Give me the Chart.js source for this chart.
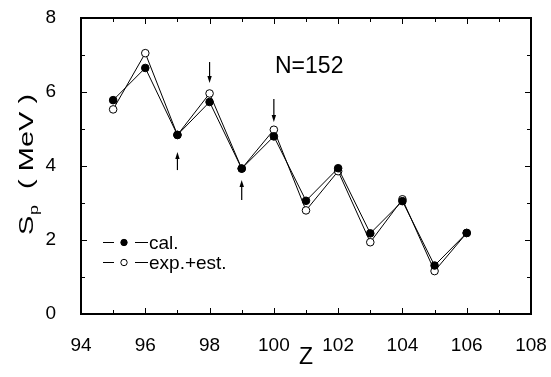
<!DOCTYPE html>
<html><head><meta charset="utf-8">
<script src="https://cdn.jsdelivr.net/npm/chart.js@4"></script>
<style>html,body{margin:0;padding:0;background:#fff;}</style>
</head><body>
<canvas id="c" width="551" height="377" style="display:block;width:551px;height:377px"></canvas>
<script>
// ---- data ----
const zValues   = [95, 96, 97, 98, 99, 100, 101, 102, 103, 104, 105, 106];
const calValues = [5.78, 6.65, 4.84, 5.73, 3.93, 4.80, 3.06, 3.94, 2.18, 3.05, 1.31, 2.19];
const expValues = [5.53, 7.05, 4.84, 5.96, 3.93, 4.98, 2.80, 3.86, 1.94, 3.10, 1.16, 2.19];
const seriesNames = ['cal.', 'exp.+est.'];
const xMajorTicks = [94, 96, 98, 100, 102, 104, 106, 108];
const xMinorTicks = [95, 97, 99, 101, 103, 105, 107];
const yMajorTicks = [0, 2, 4, 6, 8];
const yMinorTicks = [1, 3, 5, 7];
const arrowZ    = [97, 98, 99, 100];
const arrowFrom = [3.89, 6.81, 3.08, 5.81];
const arrowTo   = [4.38, 6.24, 3.62, 5.19];
const annotationText = 'N=152';
const annotationPos = [101.1, 6.68];
const xTitle = 'Z';
const yTitleMain = 'S', yTitleSub = 'p', yTitleRest = '  ( MeV )';

const FONT = 'Liberation Sans, Arial, sans-serif';

function pts(ys){ return zValues.map((z,i)=>({x:z, y:ys[i]})); }

function drawFrame(chart) {
  const ctx = chart.ctx, a = chart.chartArea;
  const xs = chart.scales.x, ys = chart.scales.y;
  ctx.save();
  const seg = (w, x0, y0, x1, y1) => {
    ctx.strokeStyle = '#000'; ctx.lineWidth = w;
    ctx.beginPath(); ctx.moveTo(x0, y0); ctx.lineTo(x1, y1); ctx.stroke();
  };
  seg(2, a.left - 1, a.top, a.right + 1, a.top);
  seg(2, a.left - 1, a.bottom, a.right + 1, a.bottom);
  seg(2, a.left, a.top, a.left, a.bottom);
  seg(2, a.right, a.top, a.right, a.bottom);
  const tx = (vals, len) => vals.forEach(v => {
    const px = Math.round(xs.getPixelForValue(v)) + 0.5;
    seg(1, px, a.bottom, px, a.bottom - len);
    seg(1, px, a.top, px, a.top + len);
  });
  const ty = (vals, len) => vals.forEach(v => {
    const py = Math.round(ys.getPixelForValue(v)) + 0.5;
    seg(1, a.left, py, a.left + len, py);
    seg(1, a.right, py, a.right - len, py);
  });
  tx(xMajorTicks, 6); tx(xMinorTicks, 4);
  ty(yMajorTicks, 6); ty(yMinorTicks, 4);
  ctx.restore();
}

const decor = {
  id: 'decor',
  afterDatasetsDraw(chart) { drawFrame(chart); },
  afterDraw(chart) {
    const ctx = chart.ctx, a = chart.chartArea;
    const xs = chart.scales.x, ys = chart.scales.y;
    ctx.save();
    ctx.fillStyle = '#000';
    ctx.strokeStyle = '#000';
    // arrows
    ctx.lineWidth = 1.2;
    arrowZ.forEach((z, i) => {
      const px = xs.getPixelForValue(z);
      const y0 = ys.getPixelForValue(arrowFrom[i]);
      const y1 = ys.getPixelForValue(arrowTo[i]);
      const dir = y1 > y0 ? 1 : -1;
      ctx.beginPath(); ctx.moveTo(px, y0); ctx.lineTo(px, y1 - dir * 4); ctx.stroke();
      ctx.beginPath();
      ctx.moveTo(px, y1);
      ctx.lineTo(px - 2.2, y1 - dir * 7);
      ctx.lineTo(px + 2.2, y1 - dir * 7);
      ctx.closePath(); ctx.fill();
    });
    // annotation
    ctx.font = '23px ' + FONT;
    ctx.textAlign = 'center'; ctx.textBaseline = 'middle';
    ctx.fillText(annotationText, xs.getPixelForValue(annotationPos[0]), ys.getPixelForValue(annotationPos[1]));
    // legend
    const rows = [a.bottom - 71.5, a.bottom - 51.5];
    const fills = ['#000', '#fff'];
    rows.forEach((ry, i) => {
      ctx.strokeStyle = '#000'; ctx.lineWidth = 1;
      ctx.beginPath();
      ctx.moveTo(a.left + 22, ry); ctx.lineTo(a.left + 33, ry);
      ctx.moveTo(a.left + 54, ry); ctx.lineTo(a.left + 67, ry);
      ctx.stroke();
      ctx.beginPath(); ctx.arc(a.left + 43, ry, 3.2, 0, Math.PI * 2);
      ctx.fillStyle = fills[i]; ctx.fill(); ctx.stroke();
      ctx.fillStyle = '#000';
      ctx.font = '19px ' + FONT;
      ctx.textAlign = 'left'; ctx.textBaseline = 'middle';
      ctx.fillText(seriesNames[i], a.left + 68, ry + 1);
    });
    // x title
    ctx.font = '23px ' + FONT;
    ctx.textAlign = 'center'; ctx.textBaseline = 'middle';
    ctx.fillText(xTitle, (a.left + a.right) / 2, a.bottom + 44);
    // y title (rotated, with subscript)
    ctx.save();
    ctx.translate(33, 235);
    ctx.rotate(-Math.PI / 2);
    ctx.scale(1.38, 1);
    ctx.textAlign = 'left'; ctx.textBaseline = 'alphabetic';
    ctx.font = '21px ' + FONT;
    let x = 0;
    ctx.fillText(yTitleMain, x, 0); x += ctx.measureText(yTitleMain).width;
    ctx.font = '13px ' + FONT;
    ctx.fillText(yTitleSub, x + 0.5, 5); x += ctx.measureText(yTitleSub).width + 0.5;
    ctx.font = '21px ' + FONT;
    ctx.fillText(yTitleRest, x, 0);
    ctx.restore();
    ctx.restore();
    drawFrame(chart);
  }
};

new Chart(document.getElementById('c'), {
  type: 'scatter',
  data: {
    datasets: [
      { label: seriesNames[0], data: pts(calValues), showLine: true,
        borderColor: '#000', borderWidth: 1, pointRadius: 3.8, pointBorderWidth: 1,
        pointBackgroundColor: '#000', pointBorderColor: '#000' },
      { label: seriesNames[1], data: pts(expValues), showLine: true,
        borderColor: '#000', borderWidth: 1, pointRadius: 3.8, pointBorderWidth: 1,
        pointBackgroundColor: '#fff', pointBorderColor: '#000' }
    ]
  },
  options: {
    responsive: false, animation: false, devicePixelRatio: 1,
    layout: { padding: { top: 18, right: 20, left: 0, bottom: 0 } },
    plugins: { legend: { display: false }, tooltip: { enabled: false } },
    scales: {
      x: {
        type: 'linear', min: 94, max: 108,
        afterBuildTicks: s => { s.ticks = xMajorTicks.map(v => ({ value: v })); },
        ticks: { color: '#000', font: { size: 19, family: FONT }, padding: 12, maxRotation: 0 },
        grid: { display: false },
        border: { display: false },
        afterFit: s => { s.height = 63; s.paddingLeft = 0; s.paddingRight = 0; }
      },
      y: {
        type: 'linear', min: 0, max: 8,
        afterBuildTicks: s => { s.ticks = yMajorTicks.map(v => ({ value: v })); },
        ticks: { color: '#000', font: { size: 19, family: FONT }, padding: 17 },
        grid: { display: false },
        border: { display: false },
        afterFit: s => { s.width = 81; s.paddingTop = 0; s.paddingBottom = 0; }
      }
    }
  },
  plugins: [decor]
});
</script>
</body></html>
